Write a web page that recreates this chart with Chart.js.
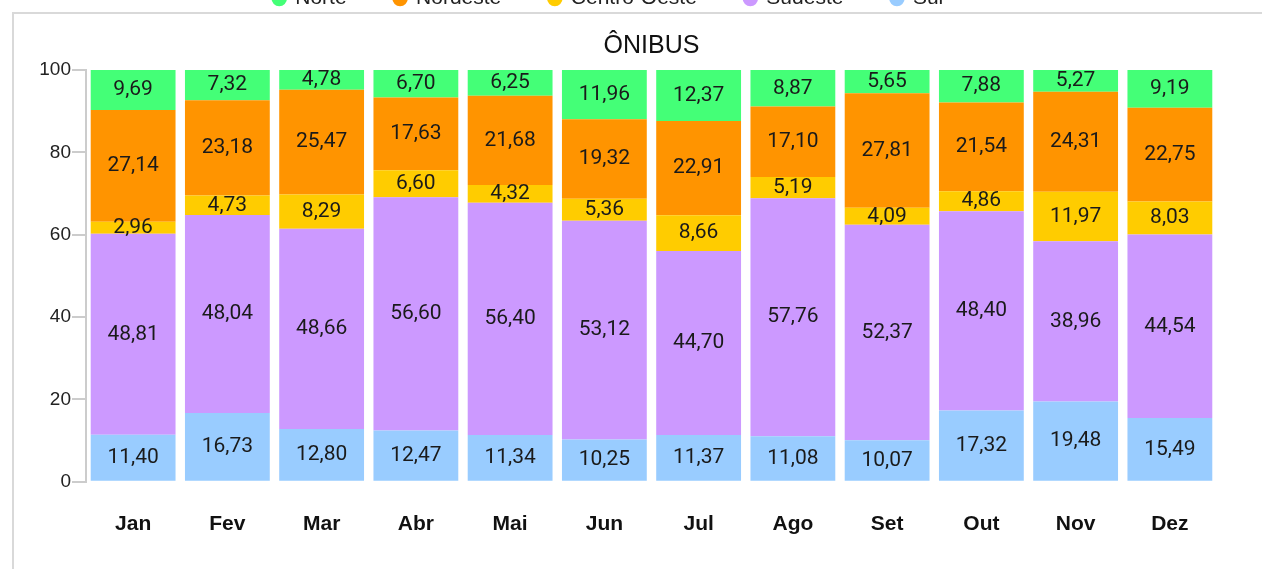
<!DOCTYPE html>
<html lang="pt-BR">
<head>
<meta charset="utf-8">
<title>Ônibus por região</title>
<script src="https://cdn.jsdelivr.net/npm/chart.js@4.4.1/dist/chart.umd.min.js"></script>
<style>
  html, body { margin: 0; padding: 0; background: #fff; overflow: hidden; }
  #moldura {
    position: absolute; left: 12px; top: 12px; width: 1300px; height: 600px;
    border-left: 2px solid #d9d9d9; border-top: 2px solid #d9d9d9;
    pointer-events: none;
  }
  #grafico { position: absolute; left: 0; top: -60px; }
</style>
</head>
<body>
<div id="moldura"></div>
<canvas id="grafico" width="1262" height="629"></canvas>
<script>
// Meses e participação (%) de cada região
const meses = ["Jan", "Fev", "Mar", "Abr", "Mai", "Jun", "Jul", "Ago", "Set", "Out", "Nov", "Dez"];
const sul         = [11.40, 16.73, 12.80, 12.47, 11.34, 10.25, 11.37, 11.08, 10.07, 17.32, 19.48, 15.49];
const sudeste     = [48.81, 48.04, 48.66, 56.60, 56.40, 53.12, 44.70, 57.76, 52.37, 48.40, 38.96, 44.54];
const centroOeste = [2.96, 4.73, 8.29, 6.60, 4.32, 5.36, 8.66, 5.19, 4.09, 4.86, 11.97, 8.03];
const nordeste    = [27.14, 23.18, 25.47, 17.63, 21.68, 19.32, 22.91, 17.10, 27.81, 21.54, 24.31, 22.75];
const norte       = [9.69, 7.32, 4.78, 6.70, 6.25, 11.96, 12.37, 8.87, 5.65, 7.88, 5.27, 9.19];
const ticksY = [0, 20, 40, 60, 80, 100];

// Escreve o valor no meio de cada pedaço da barra
const rotulosValores = {
  id: "rotulosValores",
  afterDatasetsDraw(chart) {
    const ctx = chart.ctx;
    ctx.save();
    ctx.font = "21px Roboto";
    ctx.fillStyle = "#1a1a1a";
    ctx.textAlign = "center";
    ctx.textBaseline = "middle";
    chart.data.datasets.forEach((ds, i) => {
      const meta = chart.getDatasetMeta(i);
      meta.data.forEach((barra, j) => {
        const texto = ds.data[j].toFixed(2).replace(".", ",");
        ctx.fillText(texto, barra.x, (barra.y + barra.base) / 2);
      });
    });
    ctx.restore();
  }
};

const dataset = (label, data, cor) => ({
  label, data,
  backgroundColor: cor,
  borderWidth: 0,
  barPercentage: 0.9,
  categoryPercentage: 1.0
});

new Chart(document.getElementById("grafico"), {
  type: "bar",
  data: {
    labels: meses,
    datasets: [
      dataset("Sul", sul, "#99ccff"),
      dataset("Sudeste", sudeste, "#cc99ff"),
      dataset("Centro-Oeste", centroOeste, "#ffcc00"),
      dataset("Nordeste", nordeste, "#ff9400"),
      dataset("Norte", norte, "#44ff77")
    ]
  },
  options: {
    responsive: false,
    animation: false,
    layout: { padding: { left: 0, right: 45, top: 0, bottom: 2 } },
    plugins: {
      // legenda fica acima do título
      legend: {
        position: "top",
        weight: 3000,
        reverse: true,
        labels: {
          usePointStyle: true,
          pointStyle: "circle",
          boxWidth: 11,
          boxHeight: 11,
          padding: 48,
          color: "#222",
          font: { family: "Liberation Sans", size: 21 }
        }
      },
      // título centralizado sobre a área das barras
      title: {
        display: true,
        fullSize: false,
        text: "ÔNIBUS",
        color: "#111",
        font: { family: "Liberation Sans", size: 25, weight: "normal" },
        padding: { top: 12, bottom: 9 }
      },
      tooltip: { enabled: false }
    },
    scales: {
      x: {
        stacked: true,
        grid: { display: false, drawTicks: false },
        border: { display: false },
        ticks: {
          padding: 30,
          color: "#111",
          font: { family: "Liberation Sans", size: 21, weight: "bold" }
        }
      },
      y: {
        stacked: true,
        min: 0,
        max: 100,
        afterFit(scale) { scale.width = 86; },
        afterBuildTicks(scale) { scale.ticks = ticksY.map(v => ({ value: v })); },
        grid: { drawOnChartArea: false, drawTicks: true, tickLength: 14, color: "#cccccc", lineWidth: 2 },
        border: { display: true, color: "#cccccc", width: 2 },
        ticks: {
          padding: 1,
          color: "#222",
          font: { family: "Liberation Sans", size: 19 }
        }
      }
    }
  },
  plugins: [rotulosValores]
});
</script>
</body>
</html>
